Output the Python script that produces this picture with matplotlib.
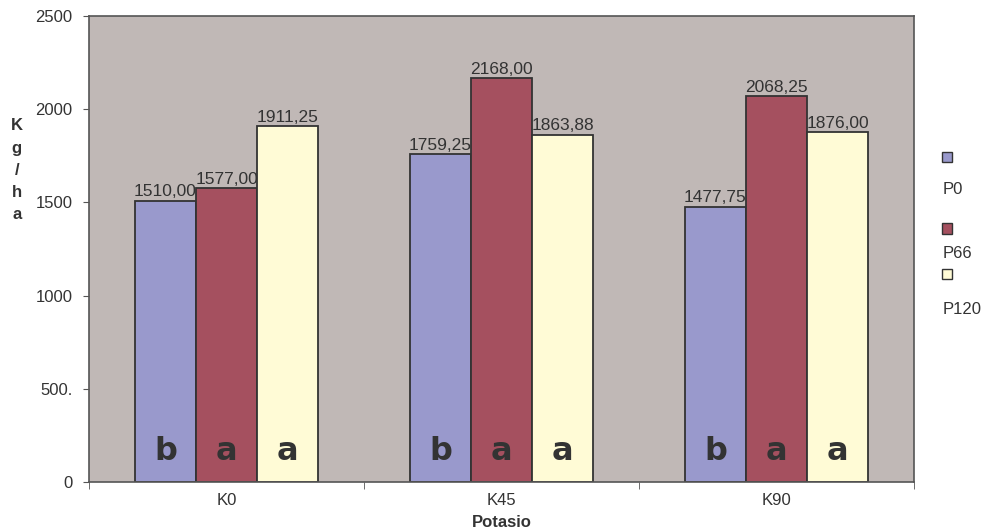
import numpy as np
import matplotlib.pyplot as plt

plt.rcParams['font.family'] = ['Liberation Sans', 'DejaVu Sans']

categories = ["K0", "K45", "K90"]
series = ["P0", "P66", "P120"]
p0 = [1510.00, 1759.25, 1477.75]
p66 = [1577.00, 2168.00, 2068.25]
p120 = [1911.25, 1863.88, 1876.00]
letters = [["b", "a", "a"], ["b", "a", "a"], ["b", "a", "a"]]
colors = ["#9999CC", "#A5505F", "#FFFBD6"]

fig = plt.figure(figsize=(9.86, 5.32), dpi=100)
ax = fig.add_axes([0.0903, 0.094, 0.8367, 0.876])
ax.set_facecolor("#C0B8B6")

x = np.arange(len(categories))
w = 0.222
values = [p0, p66, p120]
for i, vals in enumerate(values):
    pos = x + (i - 1) * w
    ax.bar(pos, vals, width=w, color=colors[i], edgecolor="#333333", linewidth=1.3, zorder=2)
    for j, v in enumerate(vals):
        ax.text(pos[j], v + 6, f"{v:.2f}".replace(".", ","), ha="center", va="bottom",
                fontsize=12.5, color="#333333")
        ax.text(pos[j], 120, letters[j][i], ha="center", va="baseline", fontsize=23,
                fontweight="heavy", family="DejaVu Sans", color="#333333")

ax.set_xlim(-0.5, 2.5)
ax.set_ylim(0, 2500)
ax.set_yticks([0, 500, 1000, 1500, 2000, 2500])
ax.set_yticklabels(["0", "500.", "1000", "1500", "2000", "2500"], fontsize=12, color="#333333")
ax.set_xticks(x)
ax.set_xticklabels(categories, fontsize=12, color="#333333")
ax.tick_params(axis="x", length=0, pad=8)
ax.set_xticks([-0.5, 0.5, 1.5, 2.5], minor=True)
ax.tick_params(axis="x", which="minor", length=5, color="#555555")
ax.tick_params(axis="y", length=4, color="#555555", pad=8)
for s in ax.spines.values():
    s.set_color("#555555")
    s.set_linewidth(1.2)
ax.set_xlabel("Potasio", fontsize=12, fontweight="bold", color="#333333", labelpad=5)

fig.text(0.017, 0.68, "K\ng\n/\nh\na", ha="center", va="center", fontsize=12,
         fontweight="bold", color="#333333", linespacing=1.6)

# legend at right side
leg_y = [0.703, 0.569, 0.483]
txt_y = [0.643, 0.524, 0.419]
for i, name in enumerate(series):
    fig.patches.append(plt.Rectangle((0.955, leg_y[i] - 0.008), 0.011, 0.019, transform=fig.transFigure,
                                     facecolor=colors[i], edgecolor="#333333", linewidth=1))
    fig.text(0.956, txt_y[i], name, ha="left", va="center", fontsize=12, color="#333333")

fig.savefig("out.png", dpi=100)
